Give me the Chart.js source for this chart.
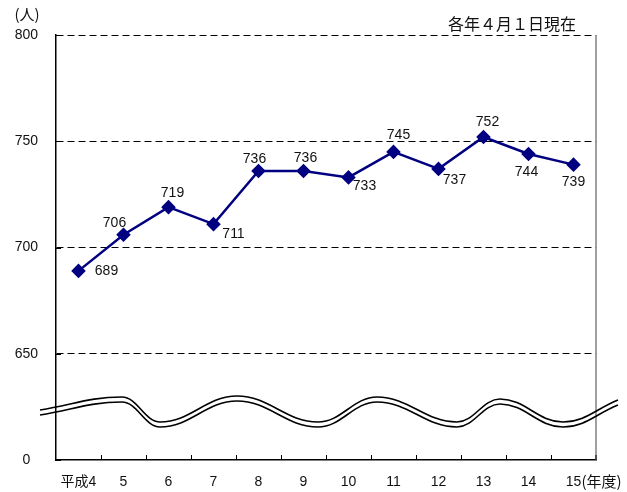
<!DOCTYPE html>
<html>
<head>
<meta charset="utf-8">
<script src="https://cdn.jsdelivr.net/npm/chart.js@4/dist/chart.umd.min.js"></script>
<style>
  body { margin: 0; background: #fff; }
  canvas { display: block; }
</style>
</head>
<body>
<canvas id="chart" width="627" height="492"></canvas>
<script>
const years = ["平成4", "5", "6", "7", "8", "9", "10", "11", "12", "13", "14", "15"];
const members = [689, 706, 719, 711, 736, 736, 733, 745, 737, 752, 744, 739];
const yMin = 600;
const yMax = 800;
const yStep = 50;
const unitLabel = "(人)";
const dateNote = "各年４月１日現在";
const yearSuffix = "(年度)";

// where each value label sits relative to its point (px)
const labelOffsets = [
  [28, 0], [-9, -12], [4, -14], [20, 10], [-4, -12], [2, -13],
  [16, 9], [5, -17], [16, 11], [4, -15], [-2, 18], [0, 18],
];

// axis-break wave: [px from plot left, px above plot bottom]
const wavePoints = [
  [-16, 50], [66, 63], [104, 38], [181, 64], [262, 38], [321, 63],
  [401, 38], [444, 61], [507, 38], [562, 60],
];

const fontStack = "'Liberation Sans', 'Noto Sans CJK JP', sans-serif";
const cjkFont = "'Noto Sans CJK JP', sans-serif";

const extras = {
  id: "extras",
  afterDraw(chart) {
    const { ctx, chartArea: area, scales } = chart;
    const x = scales.x;
    const y = scales.y;
    ctx.save();

    // right border
    ctx.strokeStyle = "#808080";
    ctx.lineWidth = 1.5;
    ctx.beginPath();
    ctx.moveTo(area.right, area.top);
    ctx.lineTo(area.right, area.bottom);
    ctx.stroke();

    // inward tick marks
    ctx.strokeStyle = "#000";
    ctx.lineWidth = 1;
    ctx.beginPath();
    for (let v = yMin; v <= yMax; v += yStep) {
      const py = Math.round(y.getPixelForValue(v)) + 0.5;
      ctx.moveTo(area.left, py);
      ctx.lineTo(area.left + 5, py);
    }
    for (let i = 0; i < years.length; i++) {
      const px = i < years.length - 1
        ? Math.round((x.getPixelForValue(i) + x.getPixelForValue(i + 1)) / 2) + 0.5
        : area.right;
      ctx.moveTo(px, area.bottom);
      ctx.lineTo(px, area.bottom - 5);
    }
    ctx.stroke();

    // axis-break wave (two parallel lines)
    ctx.lineWidth = 1.6;
    for (const shift of [0, 5]) {
      const pts = wavePoints.map(([dx, dy]) => [area.left + dx, area.bottom - dy + shift]);
      ctx.beginPath();
      ctx.moveTo(pts[0][0], pts[0][1]);
      for (let i = 1; i < pts.length; i++) {
        const p0 = pts[i - 1];
        const p1 = pts[i];
        const w = p1[0] - p0[0];
        let c1 = [p0[0] + w * 0.4, p0[1]];
        let c2 = [p1[0] - w * 0.4, p1[1]];
        if (i === 1) c1 = [p0[0] + w * 0.4, p0[1] + (p1[1] - p0[1]) * 0.4];
        if (i === pts.length - 1) c2 = [p1[0] - w * 0.4, p1[1] - (p1[1] - p0[1]) * 0.4];
        ctx.bezierCurveTo(c1[0], c1[1], c2[0], c2[1], p1[0], p1[1]);
      }
      ctx.stroke();
    }

    // value labels
    const meta = chart.getDatasetMeta(0);
    ctx.fillStyle = "#111";
    ctx.font = "14px " + fontStack;
    ctx.textAlign = "center";
    ctx.textBaseline = "middle";
    meta.data.forEach((pt, i) => {
      const [dx, dy] = labelOffsets[i];
      ctx.fillText(String(members[i]), pt.x + dx, pt.y + dy);
    });

    // header texts
    ctx.font = "15px " + cjkFont;
    ctx.fillText(unitLabel, 27, 14);
    ctx.textAlign = "right";
    ctx.font = "16px " + cjkFont;
    ctx.fillText(dateNote, 576, 24);

    // year suffix after the last category label
    ctx.textAlign = "left";
    ctx.font = "15px " + cjkFont;
    ctx.fillText(yearSuffix, x.getPixelForValue(years.length - 1) + 8, 481);

    ctx.restore();
  },
};

new Chart(document.getElementById("chart"), {
  type: "line",
  data: {
    labels: years,
    datasets: [{
      data: members,
      borderColor: "#000080",
      backgroundColor: "#000080",
      borderWidth: 2.5,
      pointStyle: "rectRot",
      pointRadius: 5.5,
      pointBackgroundColor: "#000080",
      pointBorderColor: "#000080",
      tension: 0,
    }],
  },
  options: {
    responsive: false,
    animation: false,
    layout: { padding: { top: 35, right: 31, left: 0, bottom: 0 } },
    plugins: {
      legend: { display: false },
      tooltip: { enabled: false },
    },
    scales: {
      x: {
        offset: true,
        grid: { display: false, drawTicks: false },
        border: { display: true, color: "#000", width: 1.5 },
        ticks: {
          color: "#111",
          font: { size: 14, family: fontStack },
          padding: 14,
          maxRotation: 0,
          autoSkip: false,
        },
        afterFit(scale) { scale.height = 32; },
      },
      y: {
        min: yMin,
        max: yMax,
        grid: {
          drawTicks: false,
          color: (c) => (c.tick && c.tick.value === yMin ? "rgba(0,0,0,0)" : "#000"),
          lineWidth: 1,
        },
        border: { display: true, color: "#000", width: 1.5, dash: [7, 4] },
        ticks: {
          stepSize: yStep,
          color: "#111",
          font: { size: 14, family: fontStack },
          padding: 18,
          crossAlign: "center",
          callback: (v) => (v === yMin ? "0" : String(v)),
        },
        afterFit(scale) { scale.width = 56; },
      },
    },
  },
  plugins: [extras],
});
</script>
</body>
</html>
